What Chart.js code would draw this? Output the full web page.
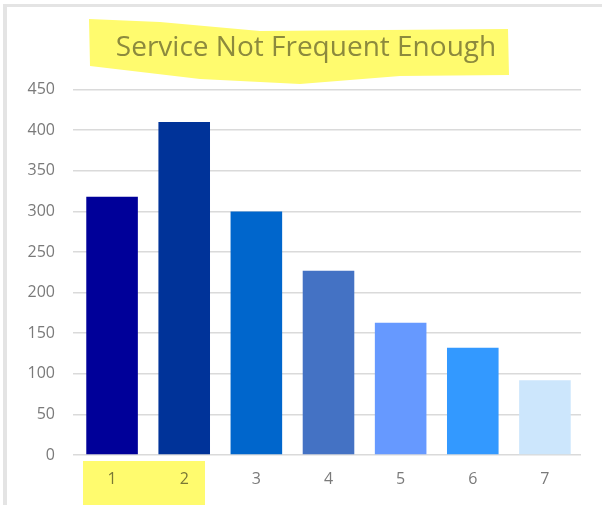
<!DOCTYPE html>
<html lang="en">
<head>
  <meta charset="UTF-8">
  <title>Service Not Frequent Enough</title>
  <script src="https://cdn.jsdelivr.net/npm/chart.js"></script>
  <style>
    html, body { margin: 0; padding: 0; background: #fff; }
    #wrap { width: 602px; height: 505px; }
  </style>
</head>
<body>
  <div id="wrap"><canvas id="chart" width="602" height="505"></canvas></div>
  <script>
    const categories = ['1', '2', '3', '4', '5', '6', '7'];
    const counts = [318, 410, 300, 227, 163, 132, 92];
    const barColors = ['#000099', '#003399', '#0066cc', '#4472c4', '#6699ff', '#3399ff', '#cce6fc'];
    const yTicks = [0, 50, 100, 150, 200, 250, 300, 350, 400, 450];

    // frame edges plus the yellow marker strokes over the title and the first two labels
    const decor = {
      id: 'decor',
      afterLayout(chart) {
        // nudge the title so it centres over the plot rather than the full canvas
        if (chart.titleBlock) chart.titleBlock.left += 31;
      },
      beforeDraw(chart) {
        const ctx = chart.ctx;
        ctx.save();
        ctx.fillStyle = '#e4e4e4';
        ctx.fillRect(3, 4, 4, 501);
        ctx.fillRect(3, 4, 599, 3);
        ctx.restore();
      },
      afterDraw(chart) {
        const ctx = chart.ctx;
        ctx.save();
        ctx.globalCompositeOperation = 'multiply';
        ctx.fillStyle = '#fffb6e';
        ctx.beginPath();
        ctx.moveTo(89, 19);
        ctx.lineTo(160, 22);
        ctx.lineTo(260, 31);
        ctx.lineTo(508, 29);
        ctx.lineTo(509, 75);
        ctx.lineTo(400, 76);
        ctx.lineTo(300, 84);
        ctx.lineTo(200, 79);
        ctx.lineTo(90, 66);
        ctx.closePath();
        ctx.fill();
        ctx.fillRect(83, 461, 122, 44);
        ctx.restore();
      }
    };

    new Chart(document.getElementById('chart'), {
      type: 'bar',
      data: {
        labels: categories,
        datasets: [{
          data: counts,
          backgroundColor: barColors,
          borderWidth: 0,
          barPercentage: 0.715,
          categoryPercentage: 1
        }]
      },
      options: {
        responsive: false,
        animation: false,
        layout: { padding: { left: 0, right: 21, top: 0, bottom: 0 } },
        plugins: {
          legend: { display: false },
          tooltip: { enabled: false },
          title: {
            display: true,
            text: 'Service Not Frequent Enough',
            color: '#8c8c8c',
            font: { family: 'Open Sans', size: 28, weight: 'normal' },
            padding: { top: 31, bottom: 25 }
          }
        },
        scales: {
          x: {
            grid: { display: false, drawTicks: false },
            border: { display: false },
            ticks: { color: '#7a7a7a', font: { family: 'Open Sans', size: 16 }, padding: 15 },
            afterFit(scale) { scale.height = 50; }
          },
          y: {
            min: 0,
            max: 450,
            afterBuildTicks(scale) { scale.ticks = yTicks.map(v => ({ value: v })); },
            grid: { color: '#dadada', lineWidth: 1.5, tickLength: 3 },
            border: { display: false },
            ticks: { color: '#7a7a7a', font: { family: 'Open Sans', size: 16 }, padding: 18 },
            afterFit(scale) { scale.width = 76; }
          }
        }
      },
      plugins: [decor]
    });
  </script>
</body>
</html>
